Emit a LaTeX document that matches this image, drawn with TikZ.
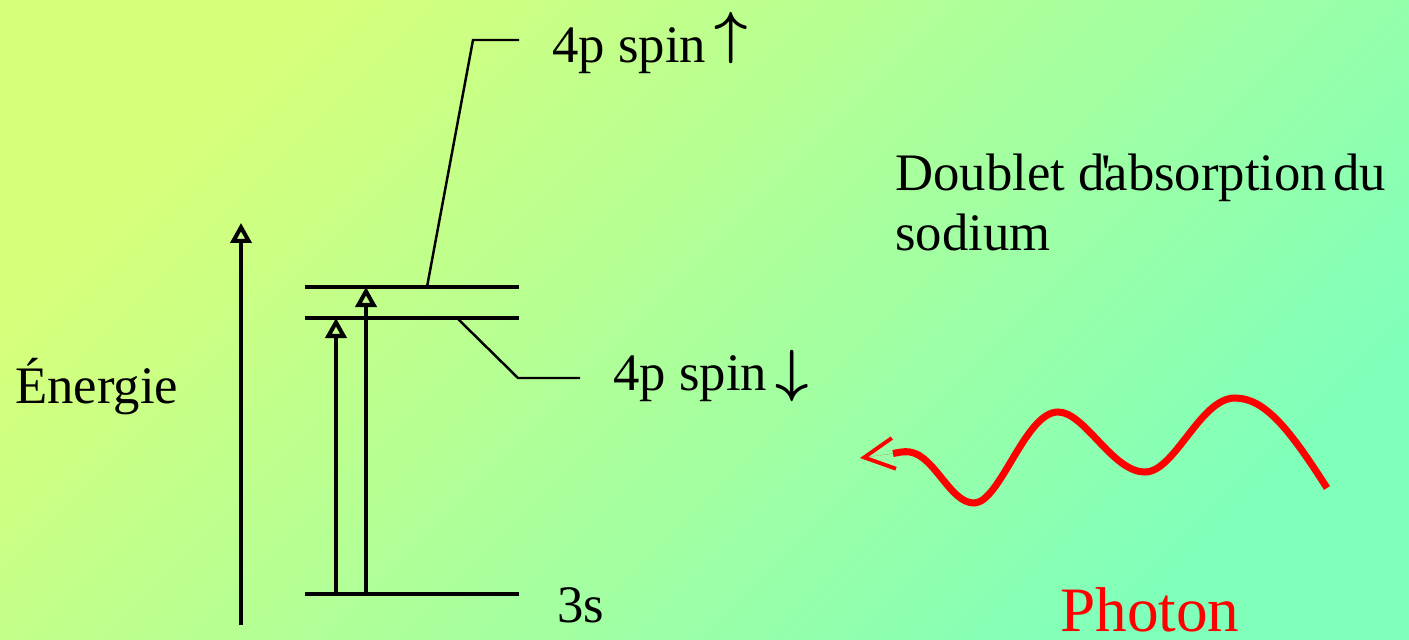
\documentclass[tikz,border=0pt]{standalone}
\usepackage{fix-cm}
\usepackage{fontspec}
\setmainfont{Liberation Serif}
\newfontfamily\rawserif{Liberation Serif}
\usetikzlibrary{arrows.meta}
\definecolor{bgTopLeft}{RGB}{216,255,122}
\definecolor{bgBottomRight}{RGB}{128,255,186}
\definecolor{photonred}{RGB}{255,0,0}
\tikzstyle{level}      = [line width=2.3pt]
\tikzstyle{leader}     = [line width=1.4pt]
\tikzstyle{arrowup}    = [line width=2.3pt, -{Triangle[open, length=0.4cm, width=0.42cm]}]
\tikzstyle{levellabel} = [inner sep=0pt, anchor=base west, font=\fontsize{30}{34}\selectfont]
\tikzstyle{photon}     = [line width=4pt, photonred, line cap=butt]
\tikzstyle{photontip}  = [line width=0.01pt, photonred,
                          -{Straight Barb[length=0.6cm, width=0.62cm, line width=2.2pt]}]
\newcommand{\spinarrow}[1]{\scalebox{1.1}[1.1]{\boldmath$#1$}}
\begin{document}
\begin{tikzpicture}[x=0.02cm, y=-0.02cm]

  % Background
  \shade[top color=bgTopLeft, bottom color=bgBottomRight, shading angle=45]
    (0,0) rectangle (1409,639);
  \useasboundingbox (0,0) rectangle (1409,639);

  % Energy axis
  \coordinate (eBot) at (241,625);
  \coordinate (eTop) at (241,223);
  \draw[arrowup] (eBot) -- (eTop);
  \node (lblE) [levellabel] at (15,403) {Énergie};

  % Energy levels
  \coordinate (s3L) at (305,594);  \coordinate (s3R) at (519,594);
  \coordinate (dnL) at (305,318);  \coordinate (dnR) at (519,318);
  \coordinate (upL) at (305,287);  \coordinate (upR) at (519,287);
  \draw[level] (s3L) -- (s3R);
  \draw[level] (dnL) -- (dnR);
  \draw[level] (upL) -- (upR);

  % Transitions
  \coordinate (trA0) at (336,594);  \coordinate (trA1) at (336,318);
  \coordinate (trB0) at (366,594);  \coordinate (trB1) at (366,287);
  \draw[arrowup] (trA0) -- (trA1);
  \draw[arrowup] (trB0) -- (trB1);

  % Labels and leaders
  \coordinate (upFoot) at (427,287);
  \coordinate (upKnee) at (473,40);
  \coordinate (upEnd)  at (519,40);
  \draw[leader] (upFoot) -- (upKnee) -- (upEnd);
  \node (lblUp) [levellabel] at (552,62) {4p spin\hspace{0.15em}\raisebox{0.2cm}{\spinarrow{\uparrow}}};

  \coordinate (dnFoot) at (457,318);
  \coordinate (dnKnee) at (518,378);
  \coordinate (dnEnd)  at (580,378);
  \draw[leader] (dnFoot) -- (dnKnee) -- (dnEnd);
  \node (lblDn) [levellabel] at (613,390) {4p spin\hspace{0.15em}\spinarrow{\downarrow}};

  \node (lbl3s) [levellabel] at (557,622) {3s};

  \node (title) [levellabel, align=left] at (895,250)
    {Doublet d\rlap{\rawserif\kern-0.06em'}absorption\hspace{0.12em}du\\sodium};

  % Photon
  \coordinate (wStart) at (1327,488);
  \coordinate (wEnd)   at (893,453.5);
  \coordinate (wTip)   at (860,458);
  \draw[photon] (wStart) .. controls (1290,430) and (1265,398) .. (1235,398)
                .. controls (1200,398) and (1175,472) .. (1145,472)
                .. controls (1112,472) and (1085,412) .. (1058,412)
                .. controls (1025,412) and (1000,503) .. (974,503)
                .. controls (950,503) and (935,456) .. (910,452)
                .. controls (902,451) and (897,453) .. (wEnd);
  \draw[photontip] (wEnd) -- (wTip);
  \node (lblPhoton) [inner sep=0pt, anchor=base west, text=photonred,
                     font=\fontsize{36}{40}\selectfont] at (1060,631) {Photon};

\end{tikzpicture}
\end{document}
